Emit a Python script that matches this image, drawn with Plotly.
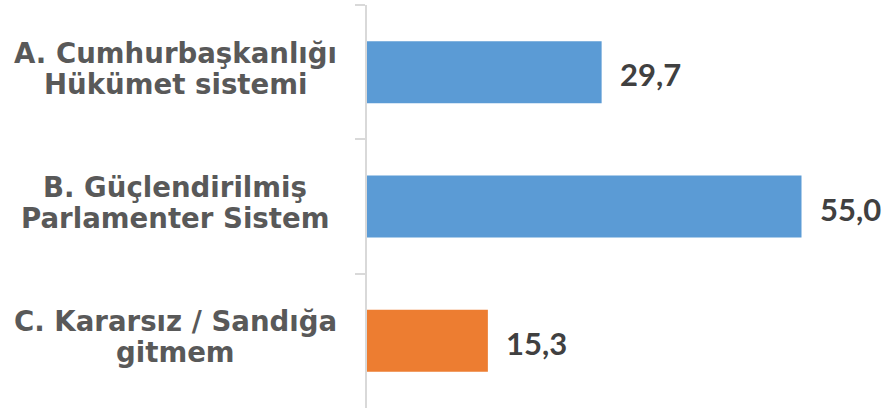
import plotly.graph_objects as go

categories = ["A. Cumhurbaşkanlığı<br>Hükümet sistemi",
              "B. Güçlendirilmiş<br>Parlamenter Sistem",
              "C. Kararsız / Sandığa<br>gitmem"]
values = [29.7, 55.0, 15.3]
colors = ["#5B9BD5", "#5B9BD5", "#ED7D31"]

W, H = 882, 411
ML, MR, MT, MB = 367, 0, 5, 3
scale = 7.9  # px per unit
xmax = (W - ML - MR) / scale

LABEL_FONT = "DejaVu Sans"
VALUE_FONT = "Lato"
LABEL_COLOR = "#595959"
VALUE_COLOR = "#404040"

fig = go.Figure()
fig.add_trace(go.Bar(
    y=categories, x=values, orientation="h",
    marker=dict(color=colors, line=dict(width=0)),
    hoverinfo="skip",
))

ann = []
label_x = (175 - ML) / (W - ML - MR)
for cat, v in zip(categories, values):
    lines = cat.split("<br>")
    shifts = [19, -12]
    for ln, s in zip(lines, shifts):
        ann.append(dict(
            x=label_x, xref="paper", y=cat, yref="y",
            text=ln, showarrow=False, xanchor="center", yanchor="middle",
            yshift=s,
            font=dict(family=LABEL_FONT, size=27.6, color=LABEL_COLOR, weight="bold"),
        ))
    ann.append(dict(
        x=v, xref="x", y=cat, yref="y",
        text=f"{v:.1f}".replace(".", ","), showarrow=False,
        xanchor="left", yanchor="middle", xshift=16, yshift=-2,
        font=dict(family=VALUE_FONT, size=31, color=VALUE_COLOR, weight="bold"),
    ))

fig.update_layout(
    width=W, height=H,
    margin=dict(l=ML, r=MR, t=MT, b=MB, pad=0),
    paper_bgcolor="white", plot_bgcolor="white",
    bargap=0.539,
    showlegend=False,
    annotations=ann,
    xaxis=dict(range=[0, xmax], visible=False, fixedrange=True),
    yaxis=dict(
        type="category", autorange="reversed",
        showline=True, linecolor="#D9D9D9", linewidth=2,
        ticks="outside", tickson="boundaries", ticklen=10,
        tickcolor="#D9D9D9", tickwidth=2,
        showticklabels=False, showgrid=False, zeroline=False,
        fixedrange=True,
    ),
)

fig.write_html("out.html", config={"displayModeBar": False},
               post_script="document.body.style.margin='0';document.body.style.overflow='hidden';")
